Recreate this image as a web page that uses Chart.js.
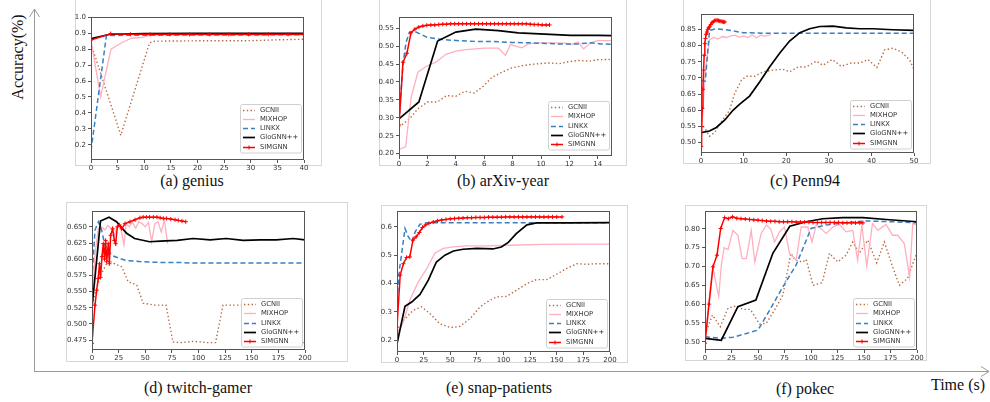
<!DOCTYPE html>
<html><head><meta charset="utf-8">
<script src="https://cdn.jsdelivr.net/npm/chart.js@4.4.1/dist/chart.umd.min.js"></script>
<style>
body{margin:0;width:990px;height:402px;background:#fff;position:relative;overflow:hidden;font-family:'Liberation Serif','Times New Roman',serif}
.frame{position:absolute;border:1px solid #d6d6d6;box-sizing:border-box}
.cap{position:absolute;font-size:16px;color:#111;transform:translate(-50%,-50%);white-space:nowrap}
.pane{position:absolute}
</style></head><body>
<svg width="990" height="402" style="position:absolute;left:0;top:0">
  <g stroke="#9a9a9a" stroke-width="1" fill="none">
    <line x1="34.5" y1="372" x2="34.5" y2="9"/>
    <polyline points="29.5,17 34.5,9 39.5,17"/>
    <line x1="34.5" y1="371.5" x2="989" y2="371.5"/>
    <polyline points="981,366.5 989,371.5 981,376.5"/>
  </g>
</svg>
<div class="frame" style="left:75px;top:-2px;width:247px;height:168px"></div>
<div class="frame" style="left:379px;top:-2px;width:248px;height:168px"></div>
<div class="frame" style="left:683px;top:-2px;width:248px;height:166px"></div>
<div class="frame" style="left:66px;top:202px;width:282px;height:160px"></div>
<div class="frame" style="left:381px;top:205px;width:247px;height:158px"></div>
<div class="frame" style="left:685px;top:205px;width:242px;height:156px"></div>

<div class="cap" style="left:18px;top:57px;transform:translate(-50%,-50%) rotate(-90deg)">Accuracy(%)</div>
<div class="cap" style="left:192px;top:181px">(a) genius</div>
<div class="cap" style="left:503px;top:181px">(b) arXiv-year</div>
<div class="cap" style="left:805px;top:181px">(c) Penn94</div>
<div class="cap" style="left:198px;top:388px">(d) twitch-gamer</div>
<div class="cap" style="left:499px;top:388px">(e) snap-patients</div>
<div class="cap" style="left:805px;top:389px">(f) pokec</div>
<div class="cap" style="left:958px;top:385px">Time (s)</div>

<script>
// ---------------- DATA ----------------
const seriesNames = ['GCNII', 'MIXHOP', 'LINKX', 'GloGNN++', 'SIMGNN'];

// (a) genius
const genius_GCNII_t = [0, 5.6, 11, 12, 16, 20, 25, 30, 35, 40];
const genius_GCNII_v = [0.835, 0.26, 0.84, 0.85, 0.851, 0.852, 0.852, 0.853, 0.858, 0.862];
const genius_MIXHOP_t = [0, 1.8, 3.75, 5.75, 7.6, 9.8, 11, 15, 20, 30, 40];
const genius_MIXHOP_v = [0.857, 0.50, 0.80, 0.84, 0.868, 0.874, 0.888, 0.89, 0.89, 0.89, 0.89];
const genius_LINKX_t = [0, 2.9, 5, 10, 20, 30, 40];
const genius_LINKX_v = [0.164, 0.886, 0.886, 0.887, 0.888, 0.889, 0.89];
const genius_GloGNN_t = [0, 3.6, 10, 20, 30, 40];
const genius_GloGNN_v = [0.865, 0.893, 0.897, 0.898, 0.898, 0.898];
const genius_SIMGNN_t = [0, 3.7, 7.4, 11.1, 14.8, 18.5, 22.2, 25.9, 29.6, 33.3, 37, 40];
const genius_SIMGNN_v = [0.857, 0.897, 0.893, 0.893, 0.893, 0.893, 0.893, 0.893, 0.893, 0.893, 0.893, 0.893];

// (b) arXiv-year
const arxiv_GCNII_t = [0, 0.74, 1.33, 2.0, 2.7, 3.35, 4.0, 4.65, 5.3, 6.0, 6.55, 7.25, 7.95, 8.65, 9.35, 9.9, 10.6, 11.3, 12.0, 12.7, 13.4, 14.0, 15];
const arxiv_GCNII_v = [0.274, 0.297, 0.325, 0.344, 0.344, 0.362, 0.36, 0.374, 0.369, 0.39, 0.413, 0.427, 0.439, 0.445, 0.449, 0.451, 0.453, 0.451, 0.457, 0.46, 0.458, 0.462, 0.463];
const arxiv_MIXHOP_t = [0, 0.47, 0.86, 1.33, 1.9, 2.6, 3.3, 4.0, 4.7, 5.4, 6.0, 7.0, 7.5, 7.84, 8.65, 9.1, 9.9, 10.7, 11.7, 12.1, 12.6, 13.0, 13.5, 14.0, 15];
const arxiv_MIXHOP_v = [0.212, 0.219, 0.358, 0.427, 0.443, 0.455, 0.477, 0.486, 0.49, 0.492, 0.494, 0.494, 0.474, 0.504, 0.495, 0.506, 0.509, 0.509, 0.508, 0.504, 0.511, 0.492, 0.509, 0.515, 0.515];
const arxiv_LINKX_t = [0, 0.28, 0.5, 0.74, 1.2, 2.0, 3.07, 4.23, 5.4, 6.56, 7.95, 9.35, 11.2, 12.6, 13.5, 14.2, 15];
const arxiv_LINKX_v = [0.29, 0.45, 0.511, 0.539, 0.539, 0.524, 0.518, 0.515, 0.513, 0.513, 0.51, 0.509, 0.506, 0.506, 0.509, 0.506, 0.505];
const arxiv_GloGNN_t = [0, 1.4, 2.72, 4.0, 5.4, 7.0, 8.4, 9.9, 12.1, 14, 15];
const arxiv_GloGNN_v = [0.297, 0.344, 0.514, 0.539, 0.547, 0.543, 0.537, 0.534, 0.53, 0.53, 0.529];
const arxiv_SIMGNN_t = [0, 0.28, 0.56, 0.84, 1.12, 1.4, 1.68, 1.96, 2.24, 2.52, 2.8, 3.08, 3.36, 3.64, 3.92, 4.2, 4.48, 4.76, 5.04, 5.32, 5.6, 5.88, 6.16, 6.44, 6.72, 7.0, 7.28, 7.56, 7.84, 8.12, 8.4, 8.68, 8.96, 9.24, 9.52, 9.8, 10.08, 10.36, 10.6];
const arxiv_SIMGNN_v = [0.28, 0.455, 0.48, 0.537, 0.547, 0.553, 0.556, 0.558, 0.559, 0.559, 0.56, 0.561, 0.561, 0.562, 0.562, 0.562, 0.562, 0.562, 0.562, 0.562, 0.562, 0.562, 0.562, 0.562, 0.562, 0.562, 0.562, 0.562, 0.562, 0.562, 0.562, 0.562, 0.562, 0.561, 0.56, 0.56, 0.559, 0.559, 0.559];

// (c) Penn94
const penn_GCNII_t = [0, 0.86, 2.0, 3.2, 4.8, 6.7, 7.9, 9.5, 10.6, 12.6, 14.6, 16.9, 19.2, 20.8, 22.8, 24.7, 27.1, 28.6, 30.8, 32.9, 35.3, 37.2, 39.2, 41.3, 43.1, 45.1, 47.1, 49, 50];
const penn_GCNII_v = [0.56, 0.545, 0.52, 0.531, 0.565, 0.6, 0.652, 0.693, 0.705, 0.705, 0.719, 0.724, 0.727, 0.719, 0.734, 0.734, 0.752, 0.739, 0.757, 0.736, 0.746, 0.746, 0.757, 0.732, 0.787, 0.792, 0.78, 0.755, 0.726];
const penn_MIXHOP_t = [0, 1, 2, 3, 4, 5, 6, 7, 8, 9, 10, 11, 12, 13, 14, 15, 16, 16.5];
const penn_MIXHOP_v = [0.5, 0.72, 0.818, 0.825, 0.82, 0.828, 0.825, 0.83, 0.832, 0.826, 0.83, 0.825, 0.833, 0.824, 0.832, 0.829, 0.832, 0.835];
const penn_LINKX_t = [0, 1.0, 2.0, 3.6, 5.9, 9.9, 15, 25, 35, 50];
const penn_LINKX_v = [0.693, 0.69, 0.847, 0.852, 0.849, 0.84, 0.838, 0.838, 0.838, 0.838];
const penn_GloGNN_t = [0, 2.0, 3.6, 5.6, 7.5, 9.1, 11.4, 13.8, 16.1, 18.5, 20.8, 23.2, 25.5, 27.9, 31, 34.1, 37.2, 40.4, 45, 50];
const penn_GloGNN_v = [0.531, 0.536, 0.547, 0.57, 0.6, 0.619, 0.644, 0.688, 0.734, 0.777, 0.814, 0.84, 0.852, 0.859, 0.86, 0.855, 0.852, 0.852, 0.849, 0.847];
const penn_SIMGNN_t = [0, 0.15, 0.3, 0.45, 0.6, 0.75, 0.9, 1.05, 1.2, 1.4, 1.6, 1.8, 2.0, 2.3, 2.6, 2.9, 3.2, 3.5, 3.8, 4.1, 4.4, 4.7, 5.0, 5.3, 5.6];
const penn_SIMGNN_v = [0.488, 0.55, 0.606, 0.665, 0.724, 0.77, 0.806, 0.822, 0.835, 0.842, 0.85, 0.855, 0.858, 0.865, 0.871, 0.874, 0.877, 0.878, 0.878, 0.877, 0.876, 0.875, 0.874, 0.873, 0.873];

// (d) twitch-gamer
const twitch_GCNII_t = [0, 8, 15.3, 20, 28, 34, 42, 48, 59, 69.5, 76, 84, 95, 108, 116, 123, 139, 148, 152, 189, 200];
const twitch_GCNII_v = [0.53, 0.575, 0.598, 0.594, 0.588, 0.565, 0.56, 0.532, 0.529, 0.529, 0.472, 0.471, 0.473, 0.471, 0.471, 0.529, 0.529, 0.529, 0.471, 0.471, 0.471];
const twitch_MIXHOP_t = [0, 3, 6, 9, 12, 15, 18, 21, 24, 27, 30, 32, 35, 38, 41, 44, 47, 50, 53, 56, 59, 62, 65, 68, 71];
const twitch_MIXHOP_v = [0.53, 0.61, 0.648, 0.65, 0.645, 0.652, 0.648, 0.637, 0.652, 0.648, 0.622, 0.655, 0.65, 0.657, 0.648, 0.658, 0.655, 0.65, 0.657, 0.627, 0.655, 0.658, 0.642, 0.66, 0.624];
const twitch_LINKX_t = [0, 2.8, 6, 9, 12, 18.5, 26, 32.5, 48, 64, 80, 95, 111, 130, 160, 200];
const twitch_LINKX_v = [0.57, 0.645, 0.658, 0.645, 0.622, 0.606, 0.601, 0.598, 0.596, 0.595, 0.595, 0.594, 0.594, 0.594, 0.594, 0.594];
const twitch_GloGNN_t = [0, 8, 16, 23, 32.5, 40, 54, 64, 80, 95, 111, 126, 142, 158, 173, 189, 200];
const twitch_GloGNN_v = [0.525, 0.659, 0.665, 0.658, 0.64, 0.632, 0.627, 0.628, 0.629, 0.632, 0.63, 0.632, 0.629, 0.63, 0.63, 0.632, 0.63];
const twitch_SIMGNN_t = [0, 2.8, 4.4, 5.8, 7, 8, 9.4, 10.6, 11.8, 12.8, 13.8, 15.3, 16.3, 17.5, 19.4, 21, 22.2, 23.8, 25.7, 27.9, 31, 35.7, 40.4, 45, 48, 51, 54, 57.6, 61, 64, 67, 70, 74, 78, 81, 84.5, 88];
const twitch_SIMGNN_v = [0.47, 0.529, 0.552, 0.57, 0.593, 0.572, 0.604, 0.624, 0.600, 0.629, 0.596, 0.624, 0.593, 0.637, 0.647, 0.629, 0.624, 0.65, 0.653, 0.647, 0.655, 0.658, 0.661, 0.664, 0.665, 0.665, 0.665, 0.665, 0.665, 0.664, 0.663, 0.663, 0.662, 0.661, 0.660, 0.659, 0.658];

// (e) snap-patients
const snap_GCNII_t = [0, 6, 15.3, 23, 31, 40, 50, 59, 68.5, 78, 87, 93.6, 103, 112, 122, 131, 140.5, 150, 159, 169, 178, 187.5, 200];
const snap_GCNII_v = [0.22, 0.27, 0.306, 0.318, 0.294, 0.259, 0.245, 0.249, 0.276, 0.318, 0.341, 0.353, 0.355, 0.376, 0.40, 0.414, 0.414, 0.433, 0.453, 0.47, 0.468, 0.47, 0.47];
const snap_MIXHOP_t = [0, 6, 12, 20, 28, 35.7, 43.5, 53, 65, 84, 106, 137, 169, 200];
const snap_MIXHOP_v = [0.224, 0.265, 0.341, 0.406, 0.453, 0.508, 0.524, 0.529, 0.533, 0.533, 0.535, 0.538, 0.539, 0.539];
const snap_LINKX_t = [0, 2.2, 4.4, 7.5, 10.6, 13.8, 17, 21.6, 28, 60, 120, 200];
const snap_LINKX_v = [0.34, 0.447, 0.506, 0.594, 0.565, 0.547, 0.582, 0.609, 0.614, 0.614, 0.614, 0.614];
const snap_GloGNN_t = [0, 7.5, 13.8, 21.6, 29.4, 37, 45, 53, 62, 75, 90, 98, 104.5, 112, 122, 131, 160, 200];
const snap_GloGNN_v = [0.188, 0.32, 0.335, 0.362, 0.412, 0.476, 0.50, 0.515, 0.521, 0.524, 0.522, 0.529, 0.545, 0.576, 0.607, 0.614, 0.614, 0.615];
const snap_SIMGNN_t = [0, 3, 6, 9, 12, 15, 18, 21, 24, 27, 30, 34, 38, 42, 46, 50, 54, 58, 62, 66, 70, 74, 78, 82, 86, 90, 94, 98, 102, 106, 110, 114, 118, 122, 126, 130, 134, 138, 142, 146, 150, 155];
const snap_SIMGNN_v = [0.247, 0.43, 0.47, 0.492, 0.494, 0.553, 0.565, 0.58, 0.598, 0.607, 0.612, 0.617, 0.621, 0.624, 0.626, 0.628, 0.629, 0.630, 0.631, 0.632, 0.632, 0.633, 0.633, 0.633, 0.634, 0.634, 0.634, 0.634, 0.635, 0.635, 0.635, 0.635, 0.635, 0.635, 0.635, 0.635, 0.635, 0.635, 0.635, 0.635, 0.635, 0.635];

// (f) pokec
const pokec_GCNII_t = [0, 2.2, 7, 14.4, 21.7, 29, 36, 42.7, 51.5, 57.8, 65.6, 73.5, 81, 85.4, 92.3, 95.4, 102, 110.5, 117.4, 125.3, 133, 139.4, 145.7, 153.5, 162, 169.2, 177, 183.4, 191, 199];
const pokec_GCNII_v = [0.52, 0.535, 0.571, 0.54, 0.589, 0.595, 0.586, 0.586, 0.547, 0.549, 0.584, 0.624, 0.735, 0.717, 0.712, 0.719, 0.65, 0.657, 0.735, 0.712, 0.73, 0.765, 0.735, 0.77, 0.71, 0.765, 0.699, 0.65, 0.668, 0.73];
const pokec_MIXHOP_t = [0, 4.4, 7.5, 10, 13, 15.4, 18, 21.7, 26.4, 31, 35, 39, 43.6, 47, 53, 57.8, 62, 65.6, 70.3, 75, 79.7, 86, 90.7, 97, 101, 105, 114.3, 120.6, 126.8, 133, 139.4, 144, 148, 152.6, 158, 162.9, 170.8, 177, 181.8, 188, 193, 196, 200];
const pokec_MIXHOP_v = [0.5, 0.628, 0.70, 0.66, 0.62, 0.704, 0.75, 0.745, 0.796, 0.783, 0.721, 0.721, 0.796, 0.712, 0.788, 0.81, 0.80, 0.765, 0.792, 0.805, 0.735, 0.717, 0.805, 0.805, 0.765, 0.812, 0.788, 0.805, 0.812, 0.792, 0.796, 0.717, 0.81, 0.701, 0.814, 0.796, 0.812, 0.783, 0.783, 0.761, 0.672, 0.814, 0.81];
const pokec_LINKX_t = [0, 15.4, 26.4, 39, 50, 61, 73.5, 86, 100, 114, 130, 152, 177, 200];
const pokec_LINKX_v = [0.513, 0.509, 0.512, 0.522, 0.531, 0.584, 0.646, 0.704, 0.801, 0.81, 0.816, 0.821, 0.819, 0.816];
const pokec_GloGNN_t = [0, 15.4, 31, 48, 64, 80, 95.4, 111, 130, 149, 171, 200];
const pokec_GloGNN_v = [0.509, 0.504, 0.593, 0.611, 0.735, 0.807, 0.819, 0.827, 0.83, 0.83, 0.825, 0.819];
const pokec_SIMGNN_t = [0, 3.8, 7.5, 11.3, 14.8, 18.5, 22, 26, 30, 34, 38, 42, 46, 50, 54, 58, 62, 66, 70, 74, 78, 82, 86, 90, 94, 98, 102, 106, 110, 114, 118, 122, 126, 130, 134, 138, 142, 146, 149];
const pokec_SIMGNN_v = [0.496, 0.6, 0.699, 0.73, 0.801, 0.83, 0.827, 0.832, 0.828, 0.827, 0.826, 0.825, 0.824, 0.823, 0.822, 0.821, 0.82, 0.82, 0.819, 0.819, 0.819, 0.819, 0.818, 0.818, 0.818, 0.818, 0.817, 0.817, 0.817, 0.817, 0.817, 0.817, 0.817, 0.816, 0.816, 0.816, 0.816, 0.816, 0.816];

// ---------------- STYLE ----------------
const styles = [
  {color:'#b8683f', width:1.4, dash:[1.4,2.4]},
  {color:'#ffafbe', width:1.3, dash:[]},
  {color:'#3a7fc1', width:1.5, dash:[5,3]},
  {color:'#000000', width:1.7, dash:[]},
  {color:'#ff0000', width:1.5, dash:[], cross:true}
];

const spinePlugin = {
  id:'spine',
  afterDatasetsDraw(chart){
    const {ctx, chartArea:a} = chart;
    ctx.save(); ctx.strokeStyle='#555'; ctx.lineWidth=1;
    ctx.strokeRect(Math.round(a.left)+0.5, Math.round(a.top)+0.5, Math.round(a.right-a.left)-1, Math.round(a.bottom-a.top)-1);
    ctx.restore();
  }
};
const legendPlugin = {
  id:'legendBox',
  afterDraw(chart, args, opts){
    const {ctx, chartArea:a} = chart;
    const w = 61, h = 48.5, x = a.right - 3 - w, y = a.bottom - (opts.bottom ?? 5) - h;
    ctx.save();
    ctx.fillStyle = 'rgba(255,255,255,0.9)'; ctx.strokeStyle = '#d0d0d0'; ctx.lineWidth = 1;
    ctx.beginPath(); ctx.roundRect(Math.round(x)+0.5, Math.round(y)+0.5, w, h, 2); ctx.fill(); ctx.stroke();
    chart.data.datasets.forEach((ds, i) => {
      const yy = Math.round(y + 6 + i * 9.3) + 0.5;
      ctx.beginPath(); ctx.setLineDash(ds.borderDash || []);
      ctx.strokeStyle = ds.borderColor; ctx.lineWidth = ds.borderWidth;
      ctx.moveTo(x + 3, yy); ctx.lineTo(x + 15, yy); ctx.stroke();
      ctx.setLineDash([]);
      if (ds.pointStyle === 'cross') {
        ctx.lineWidth = 1; ctx.beginPath(); ctx.moveTo(x + 9, yy - 2); ctx.lineTo(x + 9, yy + 2); ctx.stroke();
      }
      ctx.fillStyle = '#333'; ctx.font = '6.8px "DejaVu Sans"'; ctx.textBaseline = 'middle';
      ctx.fillText(ds.label, x + 20, yy);
    });
    ctx.restore();
  }
};

const YW = 30, PT = 6, PR = 10, XH = 14;
function panel(rect, xr, yr, series, legBottom){
  const [L, T, R, B] = rect;
  const div = document.createElement('div');
  div.className = 'pane';
  const left = Math.round(L - YW), top = Math.round(T - PT);
  const w = Math.round(R - L) + YW + PR, h = Math.round(B - T) + PT + XH;
  div.style.left = left + 'px'; div.style.top = top + 'px';
  div.style.width = w + 'px'; div.style.height = h + 'px';
  const cv = document.createElement('canvas'); cv.width = w; cv.height = h;
  div.appendChild(cv); document.body.appendChild(div);
  const datasets = series.map((s, i) => {
    const st = styles[i];
    return {
      label: seriesNames[i],
      data: s[0].map((x, k) => ({x, y: s[1][k]})),
      borderColor: st.color, backgroundColor: st.color,
      borderWidth: st.width, borderDash: st.dash,
      pointStyle: st.cross ? 'cross' : 'circle',
      pointRadius: st.cross ? 2.1 : 0, pointBorderWidth: 1,
      pointHoverRadius: 0, tension: 0, fill: false,
      order: 4 - i
    };
  });
  const tickFont = {family:'DejaVu Sans', size:7};
  new Chart(cv, {
    type:'line',
    data:{datasets},
    options:{
      responsive:false, animation:false, devicePixelRatio:1,
      layout:{padding:{left:0, top:PT, right:PR, bottom:0}},
      plugins:{legend:{display:false}, tooltip:{enabled:false}, legendBox:{bottom:legBottom}},
      scales:{
        x:{type:'linear', min:xr[0], max:xr[1],
           afterFit(s){ s.height = XH; },
           ticks:{stepSize:xr[2], font:tickFont, color:'#333', padding:1, maxRotation:0, autoSkip:false, includeBounds:false},
           grid:{display:true, drawOnChartArea:false, drawTicks:true, tickLength:3, color:'#555'},
           border:{display:false}},
        y:{type:'linear', min:yr[0], max:yr[1],
           afterFit(s){ s.width = YW; },
           ticks:{stepSize:yr[2], font:tickFont, color:'#333', padding:2, autoSkip:false, includeBounds:false,
                  callback:v => v.toFixed(yr[3])},
           grid:{display:true, drawOnChartArea:false, drawTicks:true, tickLength:3, color:'#555'},
           border:{display:false}}
      }
    },
    plugins:[spinePlugin, legendPlugin]
  });
}

panel([91, 17.3, 304.3, 160], [0, 40, 5], [0.105, 1.0, 0.1, 1], [
  [genius_GCNII_t, genius_GCNII_v], [genius_MIXHOP_t, genius_MIXHOP_v], [genius_LINKX_t, genius_LINKX_v],
  [genius_GloGNN_t, genius_GloGNN_v], [genius_SIMGNN_t, genius_SIMGNN_v]], 8);
panel([399.3, 16.7, 612.3, 155.7], [0, 15, 2], [0.1935, 0.5805, 0.05, 2], [
  [arxiv_GCNII_t, arxiv_GCNII_v], [arxiv_MIXHOP_t, arxiv_MIXHOP_v], [arxiv_LINKX_t, arxiv_LINKX_v],
  [arxiv_GloGNN_t, arxiv_GloGNN_v], [arxiv_SIMGNN_t, arxiv_SIMGNN_v]], 6.5);
panel([701.3, 14.3, 914.3, 153], [0, 50, 10], [0.468, 0.897, 0.05, 2], [
  [penn_GCNII_t, penn_GCNII_v], [penn_MIXHOP_t, penn_MIXHOP_v], [penn_LINKX_t, penn_LINKX_v],
  [penn_GloGNN_t, penn_GloGNN_v], [penn_SIMGNN_t, penn_SIMGNN_v]], 5);
panel([92, 211, 305, 350], [0, 200, 25], [0.4596, 0.6742, 0.025, 3], [
  [twitch_GCNII_t, twitch_GCNII_v], [twitch_MIXHOP_t, twitch_MIXHOP_v], [twitch_LINKX_t, twitch_LINKX_v],
  [twitch_GloGNN_t, twitch_GloGNN_v], [twitch_SIMGNN_t, twitch_SIMGNN_v]], 3.3);
panel([397, 211, 610, 351.7], [0, 200, 25], [0.159, 0.655, 0.1, 1], [
  [snap_GCNII_t, snap_GCNII_v], [snap_MIXHOP_t, snap_MIXHOP_v], [snap_LINKX_t, snap_LINKX_v],
  [snap_GloGNN_t, snap_GloGNN_v], [snap_SIMGNN_t, snap_SIMGNN_v]], 5);
panel([705.3, 211, 917.7, 350], [0, 200, 25], [0.478, 0.847, 0.05, 2], [
  [pokec_GCNII_t, pokec_GCNII_v], [pokec_MIXHOP_t, pokec_MIXHOP_v], [pokec_LINKX_t, pokec_LINKX_v],
  [pokec_GloGNN_t, pokec_GloGNN_v], [pokec_SIMGNN_t, pokec_SIMGNN_v]], 3.3);
</script>
</body></html>
